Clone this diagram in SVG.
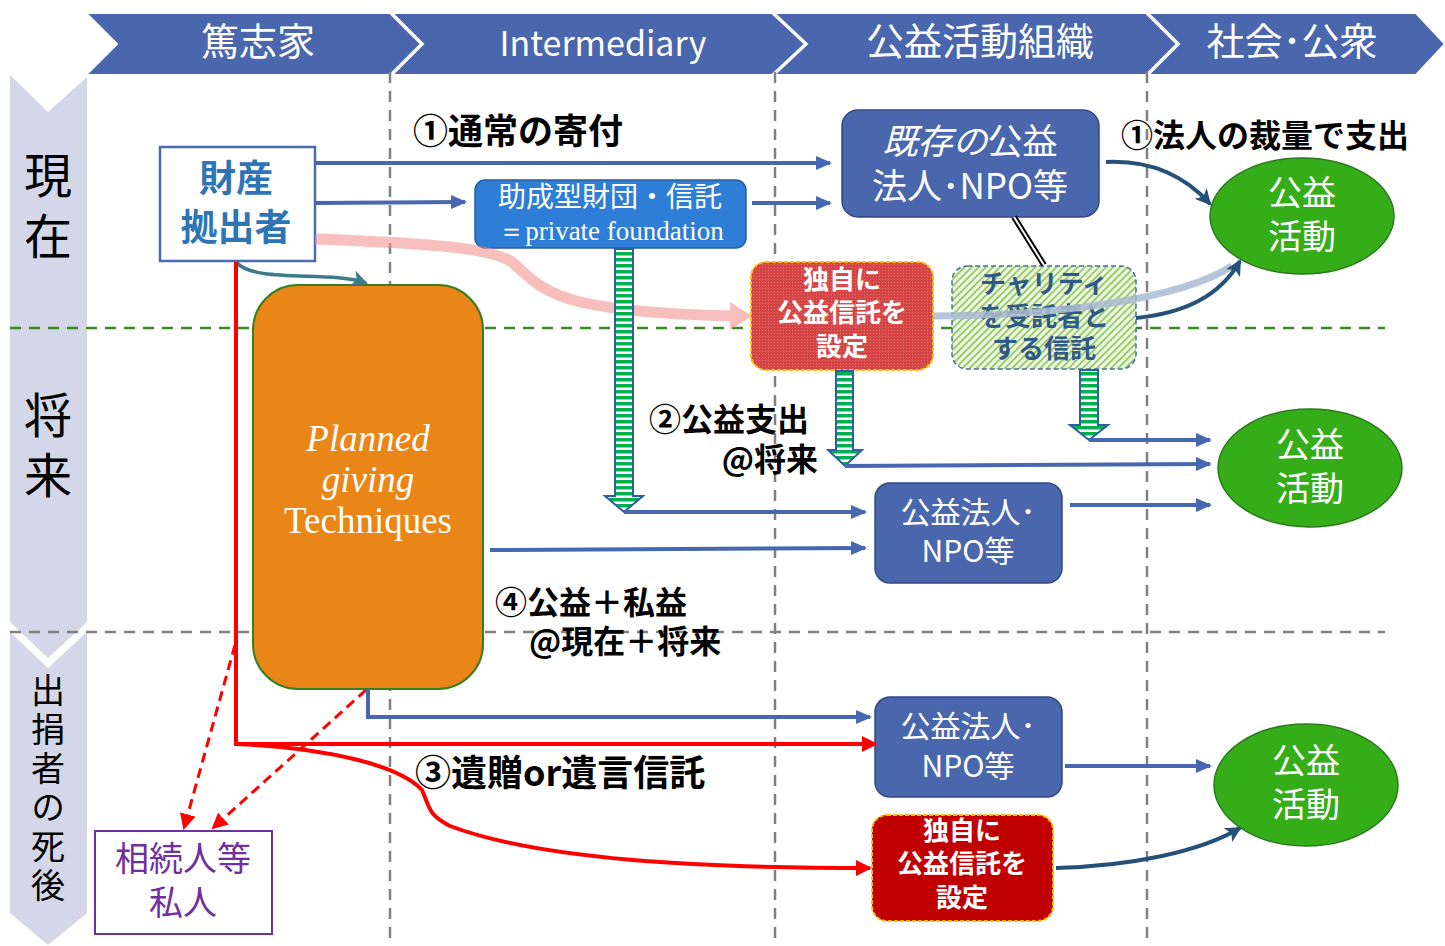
<svg xmlns="http://www.w3.org/2000/svg" width="1445" height="946" viewBox="0 0 1445 946">
<defs>
<style>
.jp{font-family:"Noto Sans CJK JP","Noto Sans",sans-serif}
.sf{font-family:"Liberation Serif","DejaVu Serif",serif}
.hdr{fill:#4a67ae;stroke:#fff;stroke-width:2}
.band{fill:#d3d7e7}
.vt{writing-mode:vertical-rl;text-orientation:upright}
.vd{stroke:#808080;stroke-width:2.5;stroke-dasharray:11 8;fill:none}
.bl{stroke:#4668b0;stroke-width:4;fill:none;marker-end:url(#ab)}
.dk{stroke:#24507a;stroke-width:4;fill:none;marker-end:url(#ad)}
.rd{stroke:#ff0000;stroke-width:4;fill:none}
.wt{fill:#fff}
.lbl{font-weight:bold;fill:#000}
.org{fill:#4a67ae;stroke:#2f4b80;stroke-width:1.5}
.ell{fill:#35ad19;stroke:#2a7a1d;stroke-width:1.5}
.stripe{fill:url(#stp);stroke:#2e5fa3;stroke-width:2}
</style>
<marker id="ab" markerUnits="userSpaceOnUse" markerWidth="16" markerHeight="14" refX="14" refY="7" orient="auto"><path d="M0,0 L16,7 L0,14 z" fill="#4668b0"/></marker>
<marker id="ad" markerUnits="userSpaceOnUse" markerWidth="16" markerHeight="16" refX="14" refY="8" orient="auto"><path d="M0,0 L16,8 L0,16 L4,8 z" fill="#24507a"/></marker>
<marker id="ar" markerUnits="userSpaceOnUse" markerWidth="16" markerHeight="16" refX="14" refY="8" orient="auto"><path d="M0,0 L16,8 L0,16 z" fill="#ff0000"/></marker>
<marker id="at" markerUnits="userSpaceOnUse" markerWidth="16" markerHeight="16" refX="14" refY="8" orient="auto"><path d="M0,0 L16,8 L0,16 L4,8 z" fill="#3d7b8a"/></marker>
<pattern id="stp" patternUnits="userSpaceOnUse" width="10" height="6"><rect width="10" height="6" fill="#fff"/><rect width="10" height="3.5" fill="#00b050"/></pattern>
<pattern id="hg" patternUnits="userSpaceOnUse" width="5" height="5" patternTransform="rotate(45)"><rect width="5" height="5" fill="#eef6e4"/><rect width="2" height="5" fill="#9ccb6c"/></pattern>
<pattern id="hr" patternUnits="userSpaceOnUse" width="3" height="3"><rect width="3" height="3" fill="#d64545"/><rect width="1" height="1" fill="#e07070"/></pattern>
</defs>

<!-- left time bands -->
<g id="bands">
<polygon class="band" points="10,75 48,112 87,77 87,622 48,658 10,622"/>
<polygon class="band" points="10,632 48,668 87,632 87,913 48,945 10,913"/>
<text class="jp vt" x="48" y="151" font-size="48" letter-spacing="13">現在</text>
<text class="jp vt" x="48" y="391" font-size="48" letter-spacing="12">将来</text>
<text class="jp vt" x="48" y="673" font-size="34" letter-spacing="5">出捐者の死後</text>
</g>

<!-- header chevrons -->
<g id="header">
<polygon class="hdr" points="86,13 390,13 421,44 390,75 86,75 117,44"/>
<polygon class="hdr" points="392,13 772,13 805,44 772,75 392,75 423,44"/>
<polygon class="hdr" points="774,13 1146,13 1177,44 1146,75 774,75 807,44"/>
<polygon class="hdr" points="1148,13 1416,13 1445,44 1416,75 1148,75 1179,44"/>
<text class="jp wt" x="258" y="55" font-size="38" text-anchor="middle">篤志家</text>
<text class="jp wt" x="603" y="56" font-size="34" text-anchor="middle">Intermediary</text>
<text class="jp wt" x="980" y="55" font-size="38" text-anchor="middle">公益活動組織</text>
<text class="jp wt" x="1292" y="55" font-size="38" text-anchor="middle">社会･公衆</text>
</g>

<!-- guide lines -->
<g id="guides">
<line class="vd" x1="390" y1="72" x2="390" y2="940"/>
<line class="vd" x1="775" y1="72" x2="775" y2="940"/>
<line class="vd" x1="1147" y1="72" x2="1147" y2="940"/>
<line x1="10" y1="328" x2="1385" y2="328" stroke="#3a8a26" stroke-width="2.5" stroke-dasharray="11 8"/>
<line x1="10" y1="632" x2="1385" y2="632" stroke="#808080" stroke-width="2.5" stroke-dasharray="11 8"/>
</g>

<!-- nodes -->
<g id="planned">
<rect x="253" y="285" width="230" height="404" rx="45" fill="#ea8517" stroke="#3a7d22" stroke-width="2"/>
<text class="sf wt" x="368" y="451" font-size="37" text-anchor="middle"><tspan font-style="italic">Planned</tspan><tspan x="368" dy="41" font-style="italic">giving</tspan><tspan x="368" dy="41">Techniques</tspan></text>
</g>

<g id="donor">
<rect x="160" y="147" width="155" height="114" fill="#fff" stroke="#4a6bb0" stroke-width="2.5"/>
<text class="jp" x="236" y="192" font-size="37" font-weight="bold" fill="#2e75b6" text-anchor="middle">財産<tspan x="236" dy="49">拠出者</tspan></text>
</g>

<g id="foundation">
<rect x="475" y="180" width="271" height="68" rx="10" fill="#2e7dd6" stroke="#2a5d9f" stroke-width="1.5"/>
<text class="jp wt" x="610" y="207" font-size="28" text-anchor="middle">助成型財団・信託</text>
<text class="sf wt" x="611" y="240" font-size="27" text-anchor="middle">＝private foundation</text>
</g>

<g id="existing">
<rect class="org" x="842" y="110" width="257" height="107" rx="16"/>
<text class="jp wt" x="970" y="154" font-size="35" text-anchor="middle"><tspan font-style="italic">既存の</tspan>公益<tspan x="970" dy="45">法人･NPO等</tspan></text>
</g>

<g id="own-trust-top">
<rect x="751" y="262" width="182" height="108" rx="15" fill="url(#hr)" stroke="#ffc000" stroke-width="2" stroke-dasharray="4 2"/>
<text class="jp wt" x="842" y="289" font-size="26" font-weight="bold" text-anchor="middle">独自に<tspan x="842" dy="33">公益信託を</tspan><tspan x="842" dy="34">設定</tspan></text>
</g>

<g id="charity-trust">
<rect x="952" y="266" width="184" height="103" rx="15" fill="url(#hg)" stroke="#41719c" stroke-width="1.5" stroke-dasharray="5 3"/>
<text class="jp" x="1044" y="293" font-size="26" font-weight="bold" fill="#2f5a87" text-anchor="middle">チャリティ<tspan x="1044" dy="33">を受託者と</tspan><tspan x="1044" dy="32">する信託</tspan></text>
</g>

<g id="activity-top">
<ellipse class="ell" cx="1302" cy="216" rx="92" ry="58"/>
<text class="jp wt" x="1302" y="205" font-size="34" text-anchor="middle">公益<tspan x="1302" dy="44">活動</tspan></text>
</g>

<g id="activity-mid">
<ellipse class="ell" cx="1310" cy="468" rx="92" ry="59"/>
<text class="jp wt" x="1310" y="457" font-size="34" text-anchor="middle">公益<tspan x="1310" dy="44">活動</tspan></text>
</g>

<g id="activity-bottom">
<ellipse class="ell" cx="1306" cy="785" rx="92" ry="61"/>
<text class="jp wt" x="1306" y="773" font-size="34" text-anchor="middle">公益<tspan x="1306" dy="44">活動</tspan></text>
</g>

<g id="npo-mid">
<rect class="org" x="875" y="483" width="187" height="100" rx="15"/>
<text class="jp wt" x="968" y="523" font-size="30" text-anchor="middle">公益法人･<tspan x="968" dy="39">NPO等</tspan></text>
</g>

<g id="npo-bottom">
<rect class="org" x="875" y="697" width="187" height="100" rx="15"/>
<text class="jp wt" x="968" y="737" font-size="30" text-anchor="middle">公益法人･<tspan x="968" dy="40">NPO等</tspan></text>
</g>

<g id="own-trust-bottom">
<rect x="872" y="815" width="181" height="106" rx="15" fill="#c00000" stroke="#ffc000" stroke-width="2" stroke-dasharray="4 2"/>
<text class="jp wt" x="962" y="840" font-size="26" font-weight="bold" text-anchor="middle">独自に<tspan x="962" dy="33">公益信託を</tspan><tspan x="962" dy="34">設定</tspan></text>
</g>

<g id="heirs">
<rect x="95" y="831" width="177" height="103" fill="#fff" stroke="#7030a0" stroke-width="2"/>
<text class="jp" x="183" y="871" font-size="34" fill="#7030a0" text-anchor="middle">相続人等<tspan x="183" dy="44">私人</tspan></text>
</g>

<!-- labels -->
<g id="labels" class="jp lbl">
<text x="413" y="144" font-size="35">①通常の寄付</text>
<text x="1121" y="147" font-size="32">①法人の裁量で支出</text>
<text x="649" y="431" font-size="32">②公益支出<tspan x="818" dy="40" text-anchor="end">@将来</tspan></text>
<text x="495" y="614" font-size="32">④公益＋私益<tspan x="529" dy="39">@現在＋将来</tspan></text>
<text x="415" y="786" font-size="36">③遺贈or遺言信託</text>
</g>

<!-- connectors -->
<g id="connectors">
<line class="bl" x1="315" y1="163" x2="830" y2="163"/>
<line class="bl" x1="315" y1="203" x2="465" y2="202"/>
<line class="bl" x1="752" y1="203" x2="830" y2="203"/>
<g opacity="0.55">
<path d="M315,239 C420,243 490,247 512,262 C528,276 540,292 580,302 C620,311 680,315 735,316" fill="none" stroke="#f28a8a" stroke-width="11"/>
<polygon points="730,302 752,316 730,330" fill="#f28a8a"/>
</g>
<path d="M236,262 C255,284 330,270 366,283" fill="none" stroke="#3d7b8a" stroke-width="3.5" marker-end="url(#at)"/>
<polyline class="rd" points="236,262 236,744 862,744"/>
<line x1="860" y1="744" x2="876" y2="744" stroke="#ff0000" stroke-width="4" marker-end="url(#ar)"/>
<path class="rd" d="M236,744 C330,748 400,766 422,790 C430,808 428,815 450,826 C540,860 700,868 870,868" marker-end="url(#ar)"/>
<line x1="235" y1="645" x2="184" y2="828" stroke="#ff0000" stroke-width="3" stroke-dasharray="10 6" marker-end="url(#ar)"/>
<line x1="366" y1="690" x2="213" y2="828" stroke="#ff0000" stroke-width="3" stroke-dasharray="10 6" marker-end="url(#ar)"/>
<polyline class="bl" points="368,690 368,717 870,717"/>
<line class="bl" x1="490" y1="550" x2="865" y2="548"/>
<line x1="1014" y1="217" x2="1044" y2="265" stroke="#000" stroke-width="6"/>
<line x1="1014" y1="217" x2="1044" y2="265" stroke="#fff" stroke-width="2"/>
<path d="M933,316 C1050,316 1180,300 1232,266" fill="none" stroke="#a9bbd2" stroke-width="7" opacity="0.85"/>
<path class="dk" d="M1106,162 C1150,160 1185,176 1210,204"/>
<path class="dk" d="M1136,318 C1185,313 1220,296 1240,261"/>
<path class="dk" d="M1056,868 C1130,866 1200,852 1240,828"/>
<polygon class="stripe" points="615,249 633,249 633,496 643,496 624,512 605,496 615,496"/>
<polygon class="stripe" points="836,371 853,371 853,450 862,450 845,466 828,450 836,450"/>
<polygon class="stripe" points="1080,370 1098,370 1098,425 1108,425 1089,440 1070,425 1080,425"/>
<line class="bl" x1="624" y1="512" x2="865" y2="512"/>
<line class="bl" x1="845" y1="466" x2="1210" y2="464"/>
<line class="bl" x1="1089" y1="440" x2="1210" y2="440"/>
<line class="bl" x1="1070" y1="505" x2="1210" y2="505"/>
<line class="bl" x1="1065" y1="766" x2="1210" y2="766"/>
</g>
</svg>
